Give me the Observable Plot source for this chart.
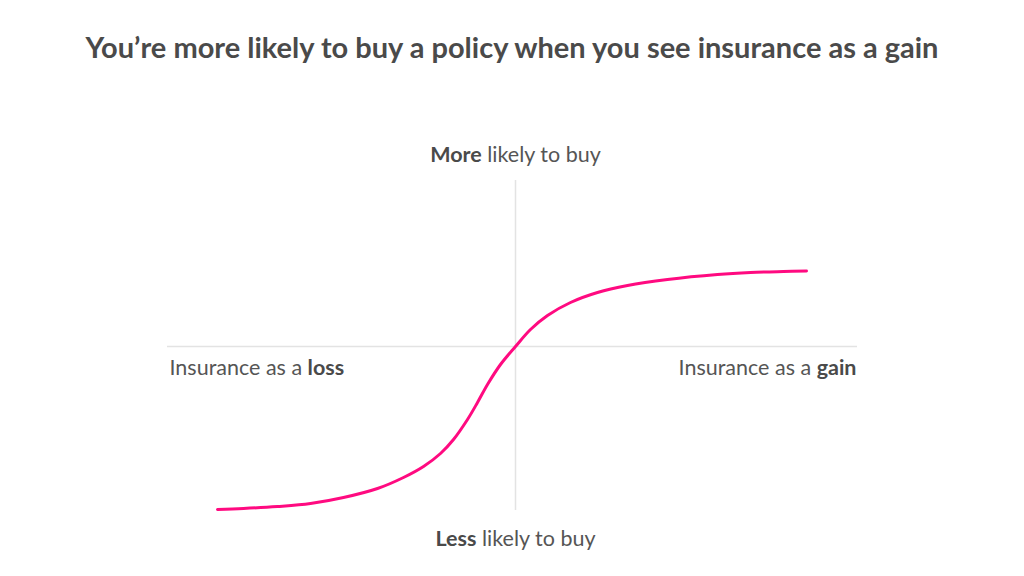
<!DOCTYPE html>
<html>
<head>
<meta charset="utf-8">
<script src="https://cdn.jsdelivr.net/npm/d3@7"></script>
<script src="https://cdn.jsdelivr.net/npm/@observablehq/plot@0.6"></script>
<style>
  html, body { margin: 0; padding: 0; background: #fff; }
  #title {
    width: 1024px; height: 94px; line-height: 94px;
    text-align: center; font-family: Lato, sans-serif; font-weight: 700;
    font-size: 29px; color: #4a4a4a; margin: 0;
  }
  #chart svg { display: block; }
</style>
</head>
<body>
<div id="title">You’re more likely to buy a policy when you see insurance as a gain</div>
<div id="chart"></div>
<script>
// Framing of insurance (negative = loss, positive = gain)
const framing = [-2.98, -2.72, -2.38, -2.05, -1.72, -1.38, -1.12, -0.92, -0.75, -0.62, -0.48, -0.38, -0.28, -0.15, 0,
                 0.15, 0.32, 0.55, 0.82, 1.12, 1.52, 2.02, 2.35, 2.68, 2.91];
// Likelihood to buy
const likelihood = [-1.63, -1.62, -1.60, -1.57, -1.51, -1.42, -1.31, -1.20, -1.07, -0.93, -0.73, -0.56, -0.38, -0.18, 0,
                    0.17, 0.31, 0.44, 0.54, 0.61, 0.67, 0.72, 0.74, 0.75, 0.755];

const labelText = ["More likely to buy", "Less likely to buy", "Insurance as a loss", "Insurance as a gain"];
const labelBold = ["More", "Less", "loss", "gain"];
const labelX = [0, 0, -3.46, 3.41];
const labelY = [1.91, -1.93, -0.22, -0.22];
const labelAnchor = ["middle", "middle", "start", "end"];

const curve = framing.map((x, i) => ({x, y: likelihood[i]}));
const labels = labelText.map((t, i) => ({text: t, bold: labelBold[i], x: labelX[i], y: labelY[i], anchor: labelAnchor[i]}));

const mk = (anchor) => Plot.text(labels.filter(d => d.anchor === anchor), {
  x: "x", y: "y", text: "text", textAnchor: anchor,
  fontSize: 21.5, fill: "#555555", fontFamily: "Lato, sans-serif"
});

const plot = Plot.plot({
  width: 1024,
  height: 482,
  marginLeft: 167,
  marginRight: 167,
  marginTop: 86,
  marginBottom: 66,
  x: {domain: [-3.48, 3.42], axis: null},
  y: {domain: [-1.64, 1.66], axis: null},
  style: {fontFamily: "Lato, sans-serif", background: "#fff"},
  marks: [
    Plot.ruleY([0], {stroke: "#e3e3e3", strokeWidth: 1.5}),
    Plot.ruleX([0], {stroke: "#e3e3e3", strokeWidth: 1.5}),
    Plot.line(curve, {x: "x", y: "y", stroke: "#ff0a80", strokeWidth: 3, curve: "catmull-rom"}),
    mk("middle"), mk("start"), mk("end")
  ]
});

// Make the key word of each label bold
plot.querySelectorAll("text").forEach(t => {
  const lab = labels.find(d => d.text === t.textContent);
  if (!lab) return;
  const idx = lab.text.indexOf(lab.bold);
  const before = lab.text.slice(0, idx), after = lab.text.slice(idx + lab.bold.length);
  t.textContent = "";
  const ns = "http://www.w3.org/2000/svg";
  const add = (s, bold) => {
    if (!s) return;
    const ts = document.createElementNS(ns, "tspan");
    ts.textContent = s;
    if (bold) { ts.setAttribute("font-weight", "700"); ts.setAttribute("fill", "#4a4a4a"); }
    t.appendChild(ts);
  };
  add(before, false); add(lab.bold, true); add(after, false);
});

document.getElementById("chart").appendChild(plot);
</script>
</body>
</html>
